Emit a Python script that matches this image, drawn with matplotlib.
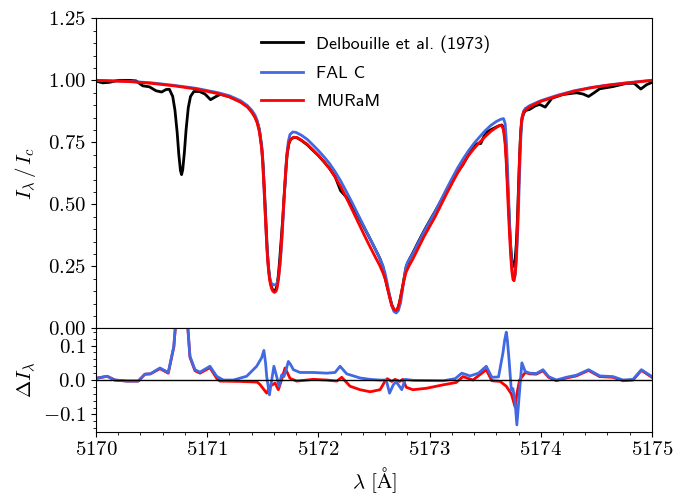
import numpy as np
import matplotlib
matplotlib.use("Agg")
import matplotlib.pyplot as plt
from matplotlib.ticker import MultipleLocator, FormatStrFormatter

# observed atlas (Delbouille et al. 1973)
obs_wl = [5170.0, 5170.06, 5170.12, 5170.2, 5170.3, 5170.36, 5170.42, 5170.48,
          5170.54, 5170.59, 5170.63, 5170.66, 5170.69, 5170.71, 5170.73,
          5170.745, 5170.76, 5170.77, 5170.78, 5170.795, 5170.81, 5170.83,
          5170.85, 5170.88, 5170.93, 5170.98, 5171.03, 5171.08, 5171.12,
          5171.2, 5171.3, 5171.36, 5171.40, 5171.43, 5171.45, 5171.47,
          5171.49, 5171.5, 5171.51, 5171.52, 5171.53, 5171.54, 5171.55,
          5171.56, 5171.57, 5171.58, 5171.59, 5171.605, 5171.62, 5171.63,
          5171.64, 5171.65, 5171.66, 5171.67, 5171.68, 5171.69, 5171.70,
          5171.71, 5171.72, 5171.735, 5171.75, 5171.78, 5171.81, 5171.85,
          5171.9, 5171.95, 5172.0, 5172.05, 5172.1, 5172.15, 5172.2, 5172.25,
          5172.3, 5172.35, 5172.4, 5172.45, 5172.5, 5172.55, 5172.58, 5172.60,
          5172.62, 5172.64, 5172.66, 5172.68, 5172.70, 5172.715, 5172.73,
          5172.75, 5172.77, 5172.79, 5172.82, 5172.85, 5172.9, 5172.95,
          5173.0, 5173.05, 5173.1, 5173.15, 5173.2, 5173.25, 5173.3, 5173.35,
          5173.4, 5173.43, 5173.46, 5173.49, 5173.52, 5173.56, 5173.6,
          5173.63, 5173.65, 5173.665, 5173.68, 5173.69, 5173.70, 5173.71,
          5173.72, 5173.73, 5173.74, 5173.75, 5173.76, 5173.77, 5173.78,
          5173.79, 5173.80, 5173.81, 5173.82, 5173.83, 5173.845, 5173.86,
          5173.9, 5173.95, 5173.99, 5174.04, 5174.1, 5174.2, 5174.32, 5174.38,
          5174.43, 5174.48, 5174.53, 5174.65, 5174.77, 5174.84, 5174.9,
          5174.95, 5175.0]
obs_I = [0.997, 0.990, 0.992, 1.000, 1.000, 0.998, 0.978, 0.974,
         0.958, 0.953, 0.963, 0.964, 0.935, 0.880, 0.790,
         0.700, 0.635, 0.620, 0.640, 0.710, 0.800, 0.890,
         0.935, 0.955, 0.955, 0.945, 0.922, 0.935, 0.944,
         0.934, 0.914, 0.895, 0.875, 0.853, 0.832, 0.800,
         0.735, 0.680, 0.600, 0.510, 0.410, 0.320, 0.255,
         0.210, 0.182, 0.165, 0.155, 0.150, 0.160, 0.178,
         0.215, 0.265, 0.325, 0.385, 0.445, 0.520, 0.580,
         0.650, 0.705, 0.745, 0.762, 0.770, 0.768, 0.757,
         0.740, 0.718, 0.697, 0.672, 0.645, 0.612, 0.555, 0.530,
         0.500, 0.460, 0.416, 0.374, 0.330, 0.285, 0.250, 0.205,
         0.165, 0.132, 0.095, 0.076, 0.070, 0.082, 0.105,
         0.150, 0.200, 0.250, 0.280, 0.305, 0.350, 0.393,
         0.433, 0.472, 0.512, 0.554, 0.592, 0.628, 0.660, 0.700,
         0.735, 0.745, 0.745, 0.775, 0.793, 0.803, 0.812,
         0.818, 0.820, 0.810, 0.760, 0.690, 0.600, 0.505,
         0.410, 0.330, 0.275, 0.250, 0.250, 0.280, 0.340,
         0.440, 0.570, 0.700, 0.790, 0.840, 0.865, 0.878,
         0.883, 0.897, 0.903, 0.892, 0.928, 0.943, 0.950, 0.945,
         0.935, 0.950, 0.966, 0.975, 0.988, 0.988, 0.965,
         0.982, 0.992]

# FAL C synthetic profile
falc_wl = [5170.0, 5170.3, 5170.5, 5170.7, 5170.9, 5171.1, 5171.2, 5171.3,
           5171.36, 5171.40, 5171.43, 5171.45, 5171.47, 5171.49, 5171.5,
           5171.51, 5171.52, 5171.53, 5171.54, 5171.55, 5171.56, 5171.57,
           5171.58, 5171.6, 5171.62, 5171.635, 5171.645, 5171.655, 5171.665,
           5171.675, 5171.685, 5171.695, 5171.705, 5171.715, 5171.73,
           5171.745, 5171.77, 5171.80, 5171.85, 5171.9, 5171.95, 5172.0,
           5172.05, 5172.1, 5172.15, 5172.2, 5172.25, 5172.3, 5172.35, 5172.4,
           5172.45, 5172.5, 5172.55, 5172.58, 5172.60, 5172.62, 5172.64,
           5172.66, 5172.68, 5172.70, 5172.72, 5172.74, 5172.76, 5172.78,
           5172.80, 5172.85, 5172.9, 5172.95, 5173.0, 5173.05, 5173.1, 5173.15,
           5173.2, 5173.25, 5173.3, 5173.35, 5173.4, 5173.45, 5173.5, 5173.55,
           5173.6, 5173.64, 5173.665, 5173.68, 5173.69, 5173.70, 5173.71,
           5173.72, 5173.73, 5173.74, 5173.75, 5173.76, 5173.77, 5173.78,
           5173.79, 5173.80, 5173.81, 5173.82, 5173.83, 5173.845, 5173.86,
           5173.9, 5173.95, 5174.0, 5174.15, 5174.3, 5174.45, 5174.6, 5174.75,
           5174.9, 5175.0]
falc_I = [1.000, 0.996, 0.990, 0.980, 0.968, 0.950, 0.938, 0.918,
          0.899, 0.880, 0.860, 0.838, 0.800, 0.730, 0.670,
          0.580, 0.485, 0.390, 0.310, 0.250, 0.210, 0.190,
          0.180, 0.175, 0.176, 0.190, 0.215, 0.255, 0.310,
          0.380, 0.460, 0.545, 0.625, 0.695, 0.755,
          0.782, 0.792, 0.790, 0.778, 0.762, 0.740, 0.717,
          0.692, 0.665, 0.632, 0.595, 0.553, 0.510, 0.465, 0.420,
          0.375, 0.330, 0.285, 0.252, 0.222, 0.180, 0.132,
          0.092, 0.068, 0.062, 0.072, 0.105, 0.165, 0.230,
          0.265, 0.302, 0.346, 0.390, 0.430, 0.470, 0.515, 0.560,
          0.603, 0.645, 0.682, 0.716, 0.746, 0.772, 0.797, 0.818,
          0.834, 0.843, 0.846, 0.825, 0.760, 0.660, 0.540,
          0.420, 0.320, 0.250, 0.212, 0.200, 0.215, 0.270,
          0.360, 0.480, 0.630, 0.760, 0.840, 0.875, 0.886,
          0.898, 0.908, 0.918, 0.940, 0.958, 0.971, 0.981, 0.989,
          0.996, 1.000]

# MURaM synthetic profile
muram_wl = [5170.0, 5170.3, 5170.5, 5170.7, 5170.9, 5171.1, 5171.2, 5171.3,
            5171.36, 5171.40, 5171.43, 5171.45, 5171.47, 5171.49, 5171.5,
            5171.51, 5171.52, 5171.53, 5171.54, 5171.55, 5171.56, 5171.57,
            5171.58, 5171.59, 5171.605, 5171.62, 5171.63, 5171.64, 5171.65,
            5171.66, 5171.67, 5171.68, 5171.69, 5171.70, 5171.71, 5171.72,
            5171.735, 5171.75, 5171.78, 5171.81, 5171.85, 5171.9, 5171.95,
            5172.0, 5172.05, 5172.1, 5172.15, 5172.2, 5172.25, 5172.3, 5172.35,
            5172.4, 5172.45, 5172.5, 5172.55, 5172.58, 5172.60, 5172.62,
            5172.64, 5172.66, 5172.68, 5172.70, 5172.715, 5172.73, 5172.75,
            5172.77, 5172.79, 5172.82, 5172.85, 5172.9, 5172.95, 5173.0,
            5173.05, 5173.1, 5173.15, 5173.2, 5173.25, 5173.3, 5173.35, 5173.4,
            5173.45, 5173.5, 5173.55, 5173.6, 5173.63, 5173.65, 5173.665,
            5173.68, 5173.69, 5173.70, 5173.71, 5173.72, 5173.73, 5173.74,
            5173.75, 5173.76, 5173.77, 5173.78, 5173.79, 5173.80, 5173.81,
            5173.82, 5173.83, 5173.845, 5173.86, 5173.9, 5173.95, 5174.0,
            5174.15, 5174.3, 5174.45, 5174.6, 5174.75, 5174.9, 5175.0]
muram_I = [1.000, 0.995, 0.988, 0.978, 0.965, 0.946, 0.933, 0.912,
           0.893, 0.872, 0.850, 0.828, 0.790, 0.725, 0.665,
           0.575, 0.480, 0.385, 0.300, 0.240, 0.200, 0.175,
           0.160, 0.150, 0.145, 0.150, 0.165, 0.195, 0.240,
           0.295, 0.360, 0.440, 0.520, 0.595, 0.660, 0.710,
           0.748, 0.763, 0.771, 0.769, 0.758, 0.742, 0.720,
           0.697, 0.672, 0.645, 0.610, 0.572, 0.528, 0.482, 0.435,
           0.388, 0.342, 0.298, 0.255, 0.225, 0.200, 0.165,
           0.125, 0.092, 0.075, 0.072, 0.082, 0.105, 0.150,
           0.195, 0.228, 0.256, 0.280, 0.325, 0.370, 0.410,
           0.450, 0.495, 0.540, 0.583, 0.625, 0.662, 0.697, 0.725,
           0.750, 0.773, 0.794, 0.810, 0.818, 0.817, 0.800,
           0.740, 0.665, 0.565, 0.460, 0.370, 0.290, 0.230,
           0.197, 0.192, 0.220, 0.290, 0.400, 0.550, 0.700,
           0.800, 0.850, 0.872, 0.880, 0.893, 0.905, 0.915,
           0.937, 0.956, 0.970, 0.980, 0.988, 0.995, 1.000]

# residuals (model - observation)
dfalc_wl = [5170.0, 5170.1, 5170.17, 5170.28, 5170.38, 5170.44, 5170.49,
            5170.575, 5170.65, 5170.70, 5170.725, 5170.75, 5170.77, 5170.79,
            5170.815, 5170.845, 5170.89, 5170.935, 5171.025, 5171.085,
            5171.145, 5171.235, 5171.355, 5171.445, 5171.49, 5171.51,
            5171.525, 5171.535, 5171.56, 5171.575, 5171.585, 5171.60,
            5171.625, 5171.645, 5171.67, 5171.69, 5171.71, 5171.73, 5171.75,
            5171.775, 5171.835, 5171.955, 5172.075, 5172.15, 5172.195,
            5172.255, 5172.375, 5172.465, 5172.55, 5172.61, 5172.64, 5172.675,
            5172.70, 5172.75, 5172.78, 5172.855, 5173.125, 5173.23, 5173.29,
            5173.365, 5173.44, 5173.51, 5173.56, 5173.62, 5173.66, 5173.675,
            5173.69, 5173.70, 5173.715, 5173.735, 5173.75, 5173.77, 5173.785,
            5173.80, 5173.83, 5173.86, 5173.90, 5173.96, 5174.02, 5174.07,
            5174.14, 5174.23, 5174.32, 5174.43, 5174.53, 5174.65, 5174.74,
            5174.83, 5174.905, 5175.0]
dfalc = [0.005, 0.011, 0.0, -0.003, -0.003, 0.017, 0.018,
         0.035, 0.022, 0.098, 0.20, 0.32, 0.35, 0.32,
         0.20, 0.069, 0.030, 0.023, 0.040, 0.011,
         0.0, 0.0, 0.011, 0.040, 0.065, 0.086,
         0.050, 0.011, -0.043, -0.010, 0.010, 0.040,
         0.010, -0.018, 0.015, 0.010, 0.030, 0.054, 0.045,
         0.030, 0.022, 0.022, 0.020, 0.022, 0.040,
         0.018, 0.006, 0.002, 0.0, 0.0, -0.038, -0.013,
         -0.005, -0.028, 0.002, -0.001, -0.002, 0.004, 0.020,
         0.012, 0.020, 0.040, 0.008, 0.009, 0.079, 0.115,
         0.139, 0.115, 0.058, -0.029, -0.025, -0.067, -0.130,
         -0.070, 0.050, 0.025, 0.020, 0.019, 0.030, 0.010,
         0.0, 0.008, 0.014, 0.030, 0.012, 0.010, 0.0,
         0.002, 0.030, 0.010]

dmuram_wl = [5170.0, 5170.1, 5170.17, 5170.28, 5170.38, 5170.44, 5170.49,
             5170.575, 5170.65, 5170.70, 5170.725, 5170.75, 5170.77, 5170.79,
             5170.815, 5170.845, 5170.89, 5170.935, 5171.025, 5171.085,
             5171.115, 5171.3, 5171.45, 5171.475, 5171.535, 5171.565,
             5171.61, 5171.64, 5171.67, 5171.70, 5171.745, 5171.805,
             5171.955, 5172.075, 5172.165, 5172.21, 5172.285, 5172.375,
             5172.465, 5172.555, 5172.60, 5172.62, 5172.66, 5172.69, 5172.73,
             5172.76, 5172.79, 5172.85, 5172.97, 5173.12, 5173.24, 5173.30,
             5173.39, 5173.51, 5173.56, 5173.635, 5173.69, 5173.735, 5173.77,
             5173.785, 5173.81, 5173.86, 5173.90, 5173.96, 5174.02, 5174.07,
             5174.14, 5174.23, 5174.32, 5174.43, 5174.53, 5174.65, 5174.74,
             5174.83, 5174.905, 5175.0]
dmuram = [0.005, 0.011, 0.0, -0.003, -0.003, 0.017, 0.018,
          0.033, 0.020, 0.096, 0.20, 0.32, 0.35, 0.32,
          0.20, 0.066, 0.027, 0.020, 0.036, 0.005,
          -0.003, -0.004, -0.006, -0.013, -0.038, -0.018,
          -0.009, -0.028, 0.002, 0.035, 0.005, -0.003,
          0.002, 0.0, -0.003, 0.008, -0.018, -0.028,
          -0.034, -0.028, -0.003, 0.004, -0.004, 0.002, -0.004,
          0.002, -0.021, -0.028, -0.024, -0.014, -0.007, 0.010,
          0.0, 0.030, -0.002, -0.004, -0.018, -0.040, -0.079,
          -0.040, 0.0, 0.022, 0.018, 0.017, 0.027, 0.008,
          -0.002, 0.006, 0.012, 0.028, 0.010, 0.008, -0.002,
          0.0, 0.028, 0.008]

labels = ["Delbouille et al. (1973)", "FAL C", "MURaM"]
colors = ["black", "royalblue", "red"]

plt.rcParams['font.family'] = 'serif'
plt.rcParams['font.serif'] = ['cmr10', 'DejaVu Serif']
plt.rcParams['mathtext.fontset'] = 'cm'
plt.rcParams['axes.formatter.use_mathtext'] = True
plt.rcParams['font.size'] = 15

fig, (ax1, ax2) = plt.subplots(2, 1, sharex=True, figsize=(6.77, 4.96), dpi=100,
                               gridspec_kw={'height_ratios': [3, 1]})
fig.subplots_adjust(left=0.1418, right=0.963, top=0.963, bottom=0.1296, hspace=0)

ax1.plot(obs_wl, obs_I, color=colors[0], lw=2, label=labels[0])
ax1.plot(falc_wl, falc_I, color=colors[1], lw=2, label=labels[1])
ax1.plot(muram_wl, muram_I, color=colors[2], lw=2, label=labels[2])
ax1.set_ylim(0, 1.25)
ax1.set_yticks(np.arange(0, 1.26, 0.25))
ax1.yaxis.set_major_formatter(FormatStrFormatter(r'$%.2f$'))
ax1.yaxis.set_minor_locator(MultipleLocator(0.05))
ax1.tick_params(axis='x', which='both', bottom=False)
ax1.set_ylabel(r'$I_\lambda\,/\,I_c$')
ax1.legend(loc='upper left', bbox_to_anchor=(0.297, 0.946), frameon=False,
           prop={'family': 'cmss10', 'size': 13}, handlelength=2.3,
           handletextpad=0.75, labelspacing=0.7, borderpad=0, borderaxespad=0)

ax2.plot(dmuram_wl, dmuram, color=colors[2], lw=2)
ax2.plot(dfalc_wl, dfalc, color=colors[1], lw=2)
ax2.axhline(0, color='black', lw=1)
ax2.set_ylim(-0.15, 0.15)
ax2.set_yticks([-0.1, 0.0, 0.1])
ax2.yaxis.set_major_formatter(FormatStrFormatter(r'$%.1f$'))
ax2.yaxis.set_minor_locator(MultipleLocator(0.02))
ax2.set_xlim(5170, 5175)
ax2.xaxis.set_major_locator(MultipleLocator(1))
ax2.xaxis.set_minor_locator(MultipleLocator(0.2))
ax2.xaxis.set_major_formatter(FormatStrFormatter(r'$%d$'))
ax2.set_xlabel(r'$\lambda\ [\mathrm{\AA}]$')
ax2.set_ylabel(r'$\Delta I_\lambda$')

fig.align_ylabels([ax1, ax2])
fig.savefig('out.png', dpi=100)
